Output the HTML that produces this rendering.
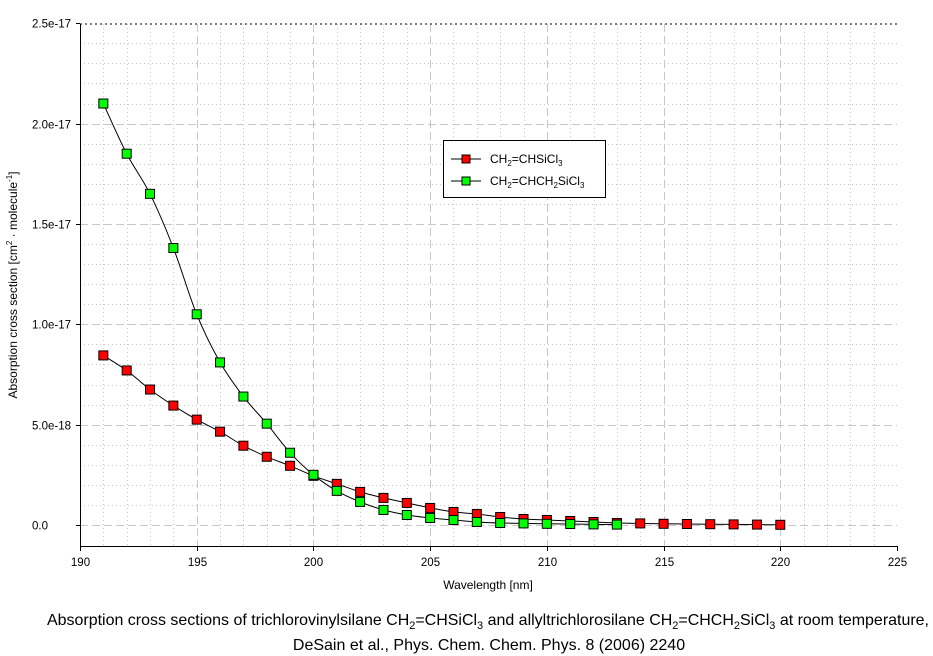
<!DOCTYPE html>
<html><head><meta charset="utf-8"><style>
body{margin:0;background:#fff;}
svg{display:block;font-family:"Liberation Sans",Arial,sans-serif;}
</style></head><body>
<svg id="s" width="933" height="656" xmlns="http://www.w3.org/2000/svg">
<rect width="933" height="656" fill="#fff"/>
<g id="grid"></g>
<line x1="80" y1="24" x2="897" y2="24" stroke="#000" stroke-dasharray="2,3"/>
<line x1="80.5" y1="24" x2="80.5" y2="546" stroke="#000"/>
<line x1="80" y1="546.5" x2="897" y2="546.5" stroke="#000"/>
<g id="ticks" font-size="11.5" fill="#000"></g>
<g id="data"></g>
<text x="488" y="589" font-size="12" text-anchor="middle">Wavelength [nm]</text>
<text transform="translate(17,285) rotate(-90)" font-size="12" text-anchor="middle">Absorption cross section [cm<tspan font-size="8" dy="-5">2</tspan><tspan dy="5"> · molecule</tspan><tspan font-size="8" dy="-5">-1</tspan><tspan dy="5">]</tspan></text>
<g font-size="16" text-anchor="middle">
<text x="488" y="625" textLength="882" lengthAdjust="spacingAndGlyphs">Absorption cross sections of trichlorovinylsilane CH<tspan font-size="11" dy="4">2</tspan><tspan dy="-4">=CHSiCl</tspan><tspan font-size="11" dy="4">3</tspan><tspan dy="-4"> and allyltrichlorosilane CH</tspan><tspan font-size="11" dy="4">2</tspan><tspan dy="-4">=CHCH</tspan><tspan font-size="11" dy="4">2</tspan><tspan dy="-4">SiCl</tspan><tspan font-size="11" dy="4">3</tspan><tspan dy="-4"> at room temperature,</tspan></text>
<text x="489" y="650">DeSain et al., Phys. Chem. Chem. Phys. 8 (2006) 2240</text>
</g>
<rect x="443.5" y="140.5" width="162" height="57" fill="#fff" stroke="#000"/>
<line x1="451" y1="159" x2="481" y2="159" stroke="#000"/>
<rect x="462" y="155" width="8" height="8" fill="#f00" stroke="#000"/>
<line x1="451" y1="181" x2="481" y2="181" stroke="#000"/>
<rect x="462" y="177" width="8" height="8" fill="#0f0" stroke="#000"/>
<text x="490" y="163" font-size="12">CH<tspan font-size="8" dy="3">2</tspan><tspan dy="-3">=CHSiCl</tspan><tspan font-size="8" dy="3">3</tspan></text>
<text x="490" y="185" font-size="12">CH<tspan font-size="8" dy="3">2</tspan><tspan dy="-3">=CHCH</tspan><tspan font-size="8" dy="3">2</tspan><tspan dy="-3">SiCl</tspan><tspan font-size="8" dy="3">3</tspan></text>
</svg>
<script>
var NS="http://www.w3.org/2000/svg";
function el(p,t,a,txt){var e=document.createElementNS(NS,t);for(var k in a)e.setAttribute(k,a[k]);if(txt!=null)e.textContent=txt;document.getElementById(p).appendChild(e);return e;}
function X(w){return 80+(w-190)*23.343;}
function Y(v){return 525-v*20.07;}
for(var w=191;w<225;w++){var x=Math.round(X(w))+0.5;var maj=(w%5==0);
 el("grid","line",{x1:x,y1:24,x2:x,y2:546,stroke:"#c8c8c8","stroke-dasharray":maj?"8,4":"1,3"});}
for(var v=0;v<25;v++){var y=Math.round(Y(v))+0.5;var maj=(v%5==0);
 el("grid","line",{x1:80,y1:y,x2:897,y2:y,stroke:"#c8c8c8","stroke-dasharray":maj?"8,4":"1,3"});}
for(var w=190;w<=225;w+=5){var x=Math.round(X(w))+0.5;el("ticks","line",{x1:x,y1:546,x2:x,y2:551,stroke:"#000"});el("ticks","text",{x:x,y:566,"text-anchor":"middle"},String(w));}
var yl=["0.0","5.0e-18","1.0e-17","1.5e-17","2.0e-17","2.5e-17"];
for(var i=0;i<6;i++){var y=Math.round(Y(i*5))+0.5;el("ticks","line",{x1:76,y1:y,x2:80,y2:y,stroke:"#000"});el("ticks","text",{x:32,y:y+4,"text-anchor":"start"},yl[i]);}
var red=[8.45,7.7,6.75,5.95,5.25,4.65,3.95,3.4,2.95,2.45,2.05,1.65,1.35,1.1,0.85,0.65,0.55,0.4,0.3,0.25,0.2,0.15,0.1,0.08,0.06,0.05,0.04,0.03,0.02,0.01];
var grn=[21,18.5,16.5,13.8,10.5,8.1,6.4,5.05,3.6,2.5,1.7,1.15,0.75,0.5,0.35,0.25,0.15,0.1,0.08,0.06,0.05,0.03,0.02];
function ser(d,c){var P=d.map(function(v,i){return [X(191+i),Y(v)];});
 var s="M"+P[0][0].toFixed(1)+","+P[0][1].toFixed(1);
 for(var i=0;i<P.length-1;i++){var p0=P[Math.max(0,i-1)],p1=P[i],p2=P[i+1],p3=P[Math.min(P.length-1,i+2)];
  var c1x=p1[0]+(p2[0]-p0[0])/6,c1y=p1[1]+(p2[1]-p0[1])/6,c2x=p2[0]-(p3[0]-p1[0])/6,c2y=p2[1]-(p3[1]-p1[1])/6;
  s+=" C"+c1x.toFixed(1)+","+c1y.toFixed(1)+" "+c2x.toFixed(1)+","+c2y.toFixed(1)+" "+p2[0].toFixed(1)+","+p2[1].toFixed(1);}
 el("data","path",{d:s,fill:"none",stroke:"#000","stroke-width":1});
 return function(){P.forEach(function(p){el("data","rect",{x:p[0]-4.5,y:p[1]-4.5,width:9,height:9,fill:c,stroke:"#000"});});};}
var a=ser(red,"#f00"),b=ser(grn,"#0f0");a();b();
</script>
</body></html>
